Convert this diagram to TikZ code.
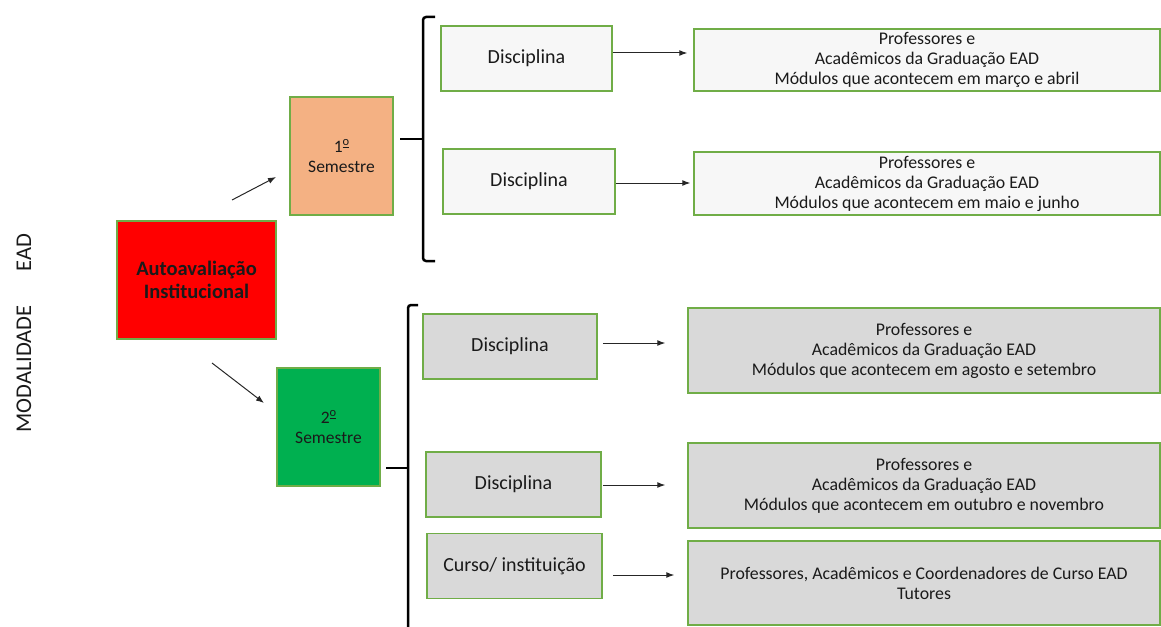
\documentclass[tikz,border=0pt]{standalone}
\usepackage{fontspec}
\setmainfont{Carlito}
\usetikzlibrary{arrows.meta}
\definecolor{bord}{HTML}{70AD47}
\definecolor{redf}{HTML}{FF0000}
\definecolor{orf}{HTML}{F4B183}
\definecolor{grf}{HTML}{00B050}
\definecolor{lightf}{HTML}{F7F7F7}
\definecolor{grayf}{HTML}{D9D9D9}
\definecolor{txt}{HTML}{1A1A1A}
\newcommand\myordo{\raisebox{0.36em}{\fontsize{12.5}{12}\selectfont\underline{o}}}
\begin{document}
\begin{tikzpicture}[x=1pt,y=-1pt,
  box/.style={draw=bord,line width=1.5pt,inner sep=0pt,align=center,text=txt},
  semfont/.style={font=\fontsize{17.5}{20}\selectfont},
  discfont/.style={font=\fontsize{20}{23}\selectfont},
  resfont/.style={font=\fontsize{17.8}{20}\selectfont},
  arr/.style={-{Latex[length=8pt,width=6pt]},line width=1pt,black!85},
  brace/.style={line width=2.5pt,black,rounded corners=3pt}]
\useasboundingbox (0,0) rectangle (1161,626);

% vertical title
\node[rotate=90,font=\fontsize{22.5}{26}\selectfont,text=txt,inner sep=0pt] (title) at (24,333) {MODALIDADE\hspace{34pt}EAD};

% main boxes
\node[box,fill=redf,minimum width=159pt,minimum height=118pt,font=\bfseries\fontsize{20.5}{23}\selectfont] (auto) at (196.5,280) {Autoavaliação\\Institucional};
\node[box,fill=orf,minimum width=103pt,minimum height=118pt,semfont] (sem1) at (341.5,156) {1\myordo\\Semestre};
\node[box,fill=grf,minimum width=103pt,minimum height=118pt,semfont] (sem2) at (328.5,427) {2\myordo\\Semestre};

% arrows from main box
\coordinate (a1s) at (232,200);
\coordinate (a1e) at (276,177);
\coordinate (a2s) at (212,363);
\coordinate (a2e) at (264,403);
\draw[arr] (a1s) -- (a1e);
\draw[arr] (a2s) -- (a2e);

% braces
\coordinate (b1top) at (435,17);
\coordinate (b1mid) at (423,139);
\coordinate (b1tip) at (400,139);
\coordinate (b1bot) at (435,261);
\draw[brace] (b1top) -| (b1mid) |- (b1bot);
\draw[brace] (b1mid) -- (b1tip);

\coordinate (b2top) at (418,305);
\coordinate (b2mid) at (408,468);
\coordinate (b2tip) at (386,468);
\coordinate (b2bot) at (408,632);
\draw[brace] (b2top) -| (b2mid) -- (b2bot);
\draw[brace] (b2mid) -- (b2tip);

% discipline boxes
\node[box,fill=lightf,minimum width=171pt,minimum height=65pt,discfont] (d1) at (526.5,58.5) {Disciplina};
\node[box,fill=lightf,minimum width=172pt,minimum height=65pt,discfont] (d2) at (529,181.5) {Disciplina};
\node[box,fill=grayf,minimum width=174pt,minimum height=65pt,discfont] (d3) at (510,346.5) {Disciplina};
\node[box,fill=grayf,minimum width=175pt,minimum height=65pt,discfont] (d4) at (513.5,484.5) {Disciplina};
\node[box,fill=grayf,minimum width=175pt,minimum height=65pt,discfont] (d5) at (514.5,566) {Curso/ instituição};

% result boxes
\node[box,fill=lightf,minimum width=466pt,minimum height=62pt,resfont] (r1) at (927,60) {Professores e\\Acadêmicos da Graduação EAD\\Módulos que acontecem em março e abril};
\node[box,fill=lightf,minimum width=466pt,minimum height=63pt,resfont] (r2) at (927,183.5) {Professores e\\Acadêmicos da Graduação EAD\\Módulos que acontecem em maio e junho};
\node[box,fill=grayf,minimum width=472pt,minimum height=85pt,resfont] (r3) at (924,350.5) {Professores e\\Acadêmicos da Graduação EAD\\Módulos que acontecem em agosto e setembro};
\node[box,fill=grayf,minimum width=472pt,minimum height=85pt,resfont] (r4) at (924,485.5) {Professores e\\Acadêmicos da Graduação EAD\\Módulos que acontecem em outubro e novembro};
\node[box,fill=grayf,minimum width=472pt,minimum height=84pt,resfont] (r5) at (924,583) {Professores, Acadêmicos e Coordenadores de Curso EAD\\Tutores};

% connectors
\draw[arr] (d1.east |- 0,53) -- ([xshift=-6pt]r1.west |- 0,53);
\draw[arr] (d2.east |- 0,183) -- ([xshift=-3pt]r2.west |- 0,183);
\draw[arr] ([xshift=5pt]d3.east |- 0,343) -- ([xshift=-22pt]r3.west |- 0,343);
\draw[arr] ([xshift=1pt]d4.east |- 0,485) -- ([xshift=-22pt]r4.west |- 0,485);
\draw[arr] ([xshift=10pt]d5.east |- 0,575) -- ([xshift=-13pt]r5.west |- 0,575);
\end{tikzpicture}
\end{document}
